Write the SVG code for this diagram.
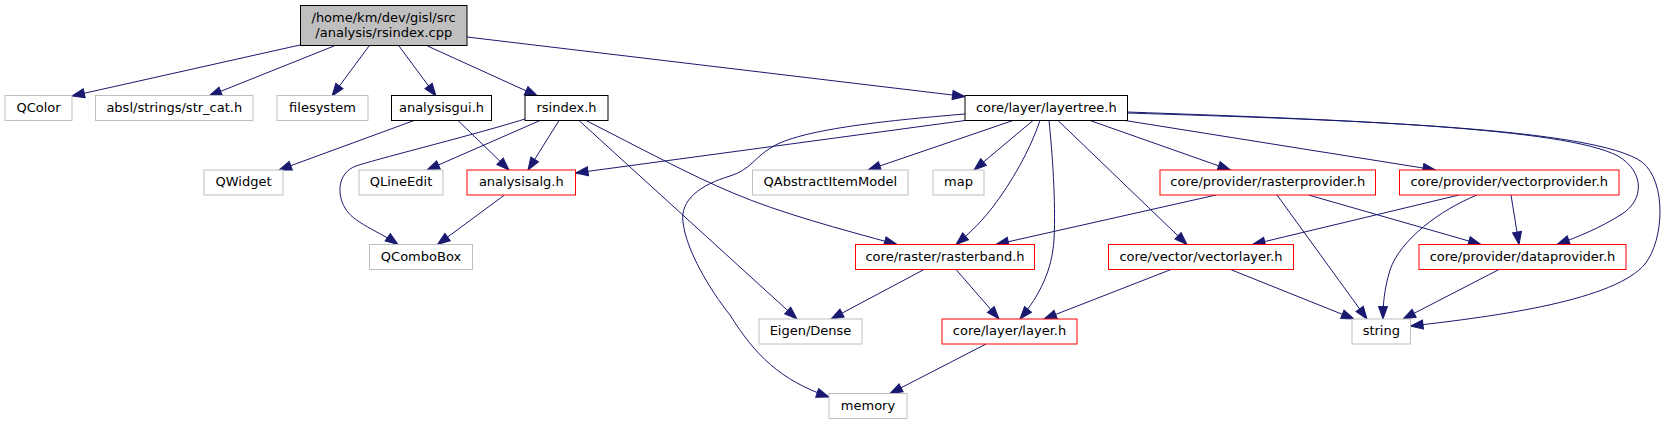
<svg xmlns="http://www.w3.org/2000/svg" width="1669" height="425" viewBox="0 0 1669 425">
<style>
.n rect{fill:#fff;stroke-width:1}
.g rect{stroke:#bfbfbf}
.b rect{stroke:#000}
.r rect{stroke:#ff0000}
.root rect{fill:#bfbfbf;stroke:#000}
text{font-family:"DejaVu Sans","Liberation Sans",sans-serif;font-size:13px;fill:#000;text-anchor:middle}
#edges path{fill:none;stroke:#191970;stroke-width:1;marker-end:url(#arr)}
</style>
<defs>
<marker id="arr" markerUnits="userSpaceOnUse" markerWidth="15" markerHeight="11" viewBox="-1 -1 15 11.4" refX="13" refY="4.7" orient="auto">
<path d="M0,0 L13,4.7 L0,9.4 z" fill="#191970" stroke="#191970" stroke-width="1"/>
</marker>
</defs>
<rect width="1669" height="425" fill="#fff"/>
<g id="edges">
<path d="M300,45 L72,96"/>
<path d="M334,46 L209,96"/>
<path d="M369,46 L332,96"/>
<path d="M399,46 L436,96"/>
<path d="M427.5,46 L537.5,96"/>
<path d="M467,37 L965,96.5"/>
<path d="M414,120.5 L279,170"/>
<path d="M458,120.5 L509,170"/>
<path d="M525,119 C470,136 380,158 356,166 C337,173 337,195 345,208 C352,222 380,232 398,244.5"/>
<path d="M540,120.5 L427,170"/>
<path d="M559,120.5 L528,170"/>
<path d="M579,120.5 L797,319"/>
<path d="M586,120.5 C640,148 690,175 733,193 C780,213 840,229 897,244.5"/>
<path d="M965,114 C880,121 800,130 772,147 C755,157 750,170 730,176 C700,185 680,200 683,222 C686,250 710,290 730,315 C755,355 780,380 829,397"/>
<path d="M965,120.5 L575.5,173"/>
<path d="M1013,120.5 L868,170"/>
<path d="M1033,120.5 L974,170"/>
<path d="M1040,120.5 C1030,150 1012,182 992,208 C978,226 966,236 956,244.5"/>
<path d="M1049,120.5 C1052,150 1056,200 1054,240 C1052,270 1040,295 1020,319"/>
<path d="M1058,120.5 L1187,244.5"/>
<path d="M1090,120.5 L1230.5,170"/>
<path d="M1125,120.5 L1435.5,170"/>
<path d="M1127.5,112 C1350,120 1565,128 1618,156 C1645,172 1644,200 1622,214 C1600,228 1580,236 1557,244.5"/>
<path d="M1127.5,113 C1350,120 1595,128 1642,162 C1667,182 1664,240 1645,264 C1615,300 1500,316 1410.5,326"/>
<path d="M1216,195 L996,244.5"/>
<path d="M1277,195 L1367,319"/>
<path d="M1308.5,195 L1481,244.5"/>
<path d="M1459,195 L1252.5,244.5"/>
<path d="M1477,195 C1440,210 1400,240 1390,270 C1384,290 1383,305 1383,319"/>
<path d="M1511,195 L1519,244.5"/>
<path d="M1171,269.5 L1044,319"/>
<path d="M1230.5,269.5 L1354,319"/>
<path d="M1499,269.5 L1403,319"/>
<path d="M924,269.5 L831,319"/>
<path d="M956,269.5 L999,319"/>
<path d="M986,344 L890,393.5"/>
<path d="M504.5,195 L437.5,244.5"/>
</g>
<g id="root" class="n root"><rect x="300.5" y="5.5" width="166.5" height="40"/><text x="311.5" y="22" style="text-anchor:start">/home/km/dev/gisl/src</text><text x="383.8" y="36.7">/analysis/rsindex.cpp</text></g>
<g id="QColor" class="n g"><rect x="5" y="95.5" width="67" height="25"/><text x="38.5" y="111.5">QColor</text></g>
<g id="absl" class="n g"><rect x="95.5" y="95.5" width="157.5" height="25"/><text x="174.3" y="111.5">absl/strings/str_cat.h</text></g>
<g id="filesystem" class="n g"><rect x="277" y="95.5" width="91" height="25"/><text x="322.5" y="111.5">filesystem</text></g>
<g id="analysisgui" class="n b"><rect x="391.5" y="95.5" width="100" height="25"/><text x="441.5" y="111.5">analysisgui.h</text></g>
<g id="rsindex" class="n b"><rect x="525" y="95.5" width="83" height="25"/><text x="566.5" y="111.5">rsindex.h</text></g>
<g id="layertree" class="n b"><rect x="965" y="95.5" width="162.5" height="25"/><text x="1046.3" y="111.5">core/layer/layertree.h</text></g>
<g id="QWidget" class="n g"><rect x="204" y="170" width="79" height="25"/><text x="243.5" y="186">QWidget</text></g>
<g id="QLineEdit" class="n g"><rect x="359" y="170" width="84" height="25"/><text x="401" y="186">QLineEdit</text></g>
<g id="analysisalg" class="n r"><rect x="467" y="170" width="108.5" height="25"/><text x="521.3" y="186">analysisalg.h</text></g>
<g id="QAbstractItemModel" class="n g"><rect x="752.5" y="170" width="155.5" height="25"/><text x="830.3" y="186">QAbstractItemModel</text></g>
<g id="map" class="n g"><rect x="933" y="170" width="51" height="25"/><text x="958.5" y="186">map</text></g>
<g id="rasterprovider" class="n r"><rect x="1160" y="170" width="215.5" height="25"/><text x="1267.8" y="186">core/provider/rasterprovider.h</text></g>
<g id="vectorprovider" class="n r"><rect x="1399.5" y="170" width="219.5" height="25"/><text x="1509.3" y="186">core/provider/vectorprovider.h</text></g>
<g id="QComboBox" class="n g"><rect x="369.5" y="244.5" width="103" height="25"/><text x="421" y="260.5">QComboBox</text></g>
<g id="rasterband" class="n r"><rect x="855.5" y="244.5" width="179" height="25"/><text x="945" y="260.5">core/raster/rasterband.h</text></g>
<g id="vectorlayer" class="n r"><rect x="1108.5" y="244.5" width="185" height="25"/><text x="1201" y="260.5">core/vector/vectorlayer.h</text></g>
<g id="dataprovider" class="n r"><rect x="1419" y="244.5" width="207" height="25"/><text x="1522.5" y="260.5">core/provider/dataprovider.h</text></g>
<g id="EigenDense" class="n g"><rect x="759" y="319" width="103" height="25"/><text x="810.5" y="335">Eigen/Dense</text></g>
<g id="layer" class="n r"><rect x="942" y="319" width="135" height="25"/><text x="1009.5" y="335">core/layer/layer.h</text></g>
<g id="string" class="n g"><rect x="1352" y="319" width="58.5" height="25"/><text x="1381.3" y="335">string</text></g>
<g id="memory" class="n g"><rect x="829" y="393.5" width="78" height="25"/><text x="868" y="409.5">memory</text></g>
</svg>
